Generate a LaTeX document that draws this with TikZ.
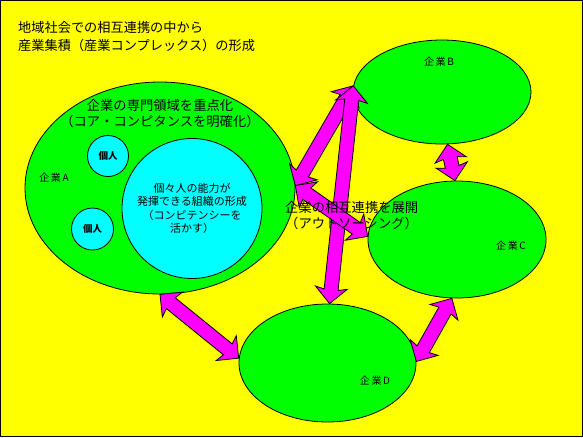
\documentclass[tikz,border=0pt]{standalone}
\usepackage{fontspec}
\setmainfont{Noto Sans CJK JP}
\usepackage{tikz}
\usetikzlibrary{shapes.geometric,calc}

\definecolor{bgyellow}{RGB}{255,255,0}
\definecolor{firmgreen}{RGB}{0,255,0}
\definecolor{staffcyan}{RGB}{0,255,255}
\definecolor{linkmagenta}{RGB}{255,0,255}

\tikzset{
  firm/.style={ellipse, draw=black, fill=firmgreen, line width=0.8pt, inner sep=0pt},
  staff/.style={circle, draw=black, fill=staffcyan, line width=0.8pt, inner sep=0pt, align=center},
  linkarrow/.style={draw=black, fill=linkmagenta, line width=0.8pt, line join=miter},
  plaintext/.style={inner sep=0pt},
  firmname/.style={plaintext, font=\fontsize{10}{12}\selectfont},
  bigtext/.style={plaintext, font=\fontsize{13.3}{16}\selectfont},
}

% double headed block arrow between two named points
\newcommand\dblarrow[2]{%
  \path let \p1=(#1), \p2=(#2) in
    \pgfextra{\pgfmathsetmacro\arang{atan2(\y2-\y1,\x2-\x1)}%
      \pgfmathsetmacro\arlen{veclen(\x2-\x1,\y2-\y1)}%
      \xdef\arang{\arang}\xdef\arlen{\arlen}};
  \begin{scope}[shift={(#1)}, rotate=\arang, x=1pt, y=1pt]
    \draw[linkarrow] (0,0) -- (16,16) -- (14,7) -- (\arlen-14,7) -- (\arlen-16,16)
      -- (\arlen,0) -- (\arlen-16,-16) -- (\arlen-14,-7) -- (14,-7) -- (16,-16) -- cycle;
  \end{scope}}

\begin{document}
\begin{tikzpicture}[x=1pt,y=-1pt]
  % Background
  \useasboundingbox (0,0) rectangle (583,437);
  \draw[fill=bgyellow, line width=1pt] (0.5,0.5) rectangle (582.5,436.5);
  % Title
  \node[bigtext, anchor=base west, font=\fontsize{13.2}{16}\selectfont] (title1) at (18,32) {地域社会での相互連携の中から};
  \node[bigtext, anchor=base west, font=\fontsize{13.2}{16}\selectfont] (title2) at (18,50) {産業集積（産業コンプレックス）の形成};
  % Firms
  \node[firm, minimum width=270pt, minimum height=212pt] (A) at (160,188) {};
  \node[firm, minimum width=178pt, minimum height=104pt] (B) at (442,92) {};
  \node[firm, minimum width=178pt, minimum height=117pt] (C) at (457,239.5) {};
  \node[firm, minimum width=177pt, minimum height=118pt] (D) at (327.5,363) {};
  % Inside firm A
  \node[bigtext, align=center] (focus) at (160,114) {企業の専門領域を重点化\\（コア・コンピタンスを明確化）};
  \node[staff, minimum size=41pt, font=\bfseries\fontsize{9.5}{11}\selectfont] (p1) at (108,156) {個人};
  \node[staff, minimum size=42pt, font=\bfseries\fontsize{9.5}{11}\selectfont] (p2) at (92.5,229) {個人};
  \node[staff, minimum size=140pt, font=\fontsize{11}{13.5}\selectfont] (team) at (192,208.5)
    {個々人の能力が\\発揮できる組織の形成\\（コンピテンシーを\\活かす）};
  % Firm names
  \node[firmname] (nameA) at (54,178) {企\,業\,A};
  \node[firmname] (nameB) at (439,62) {企\,業\,B};
  \node[firmname] (nameC) at (511,246) {企\,業\,C};
  \node[firmname] (nameD) at (375,381) {企\,業\,D};
  % Links
  \foreach \s/\t in {A.-90/D.177, D.1/C.-95, B.-84/C.92, A.1/B.176, B.176/D.88, A.1/C.178}{
    \dblarrow{\s}{\t}
  }
  \node[bigtext, anchor=west, align=left] (collab) at (285,216) {企業の相互連携を展開\\（アウトソーシング）};
\end{tikzpicture}
\end{document}
